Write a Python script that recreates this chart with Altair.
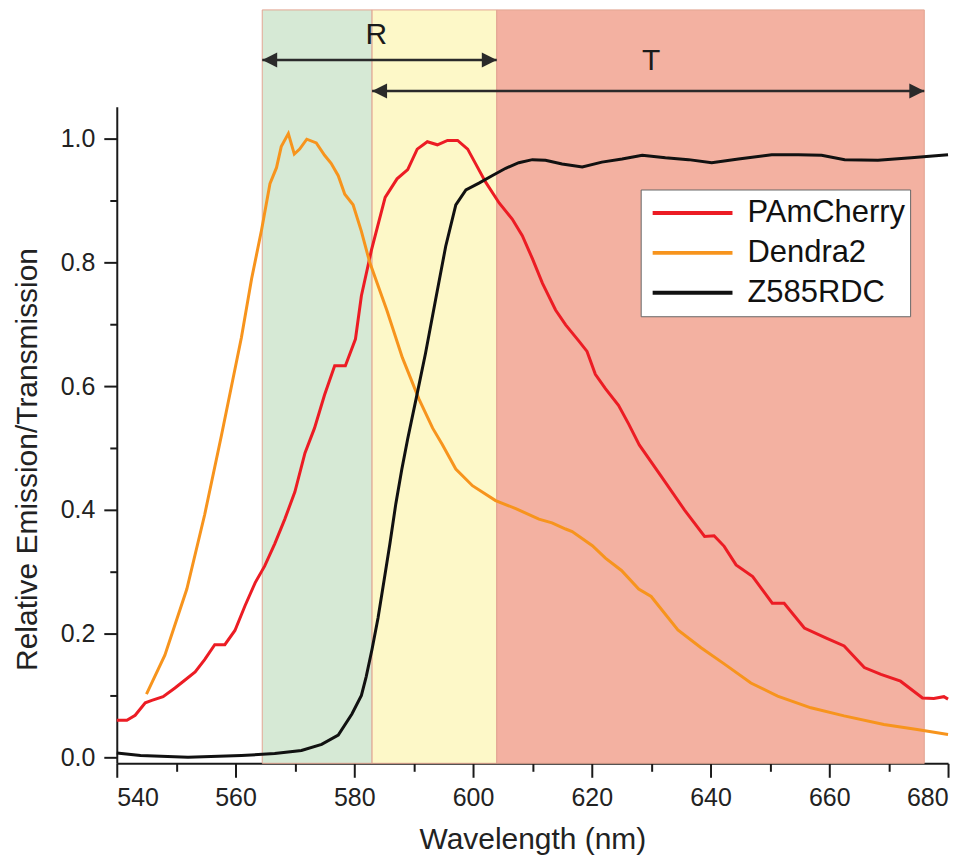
import altair as alt
import pandas as pd

FONT = "Liberation Sans"

# ---- data ----
series = ["PAmCherry", "Dendra2", "Z585RDC"]
series_colors = ["#ec1c24", "#f7941d", "#111111"]

pam_x = [540.0, 541.7, 543.1, 544.8, 545.9, 547.8, 549.8, 551.5, 553.2, 554.8, 556.5, 558.2,
         559.9, 561.6, 563.3, 564.9, 566.6, 568.3, 570.0, 571.7, 573.3, 575.0, 576.7, 578.5,
         580.2, 581.2, 582.9, 583.6, 585.2, 587.2, 589.0, 590.6, 592.3, 594.0, 595.7, 597.4,
         599.1, 600.4, 602.1, 604.4, 606.6, 608.3, 610.0, 611.7, 613.9, 615.6, 617.8, 619.2,
         620.6, 622.3, 624.5, 626.2, 628.0, 631.7, 635.6, 639.0, 640.6, 642.3, 644.3, 647.1,
         650.4, 652.4, 655.8, 659.4, 662.5, 665.9, 668.7, 672.0, 675.7, 677.6, 679.3, 680.0]
pam_y = [0.060, 0.060, 0.068, 0.088, 0.092, 0.098, 0.112, 0.125, 0.138, 0.158, 0.182, 0.182,
         0.205, 0.245, 0.282, 0.309, 0.345, 0.385, 0.429, 0.492, 0.532, 0.586, 0.633, 0.633,
         0.676, 0.746, 0.820, 0.846, 0.905, 0.935, 0.950, 0.983, 0.995, 0.990, 0.997, 0.997,
         0.983, 0.960, 0.930, 0.896, 0.870, 0.843, 0.806, 0.766, 0.723, 0.699, 0.673, 0.656,
         0.619, 0.596, 0.569, 0.539, 0.505, 0.454, 0.400, 0.357, 0.358, 0.341, 0.311, 0.292,
         0.249, 0.249, 0.209, 0.193, 0.180, 0.145, 0.134, 0.123, 0.096, 0.095, 0.098, 0.094]

den_x = [545.0, 548.1, 551.8, 554.8, 557.6, 559.3, 561.0, 562.7, 564.4, 565.8, 566.9, 567.7,
         568.9, 569.9, 570.8, 572.0, 573.6, 575.0, 576.1, 577.3, 578.4, 579.8, 581.2, 582.6,
         585.5, 588.1, 590.9, 593.2, 594.8, 597.1, 599.9, 603.8, 607.2, 611.1, 613.3, 615.6,
         616.7, 620.1, 622.3, 625.0, 627.9, 630.0, 634.5, 638.4, 642.3, 646.8, 651.3, 656.9,
         662.5, 669.2, 674.8, 680.0]
den_y = [0.102, 0.165, 0.272, 0.392, 0.519, 0.599, 0.679, 0.773, 0.853, 0.927, 0.953, 0.987,
         1.008, 0.975, 0.983, 0.999, 0.993, 0.973, 0.960, 0.940, 0.910, 0.893, 0.850, 0.800,
         0.722, 0.646, 0.579, 0.532, 0.506, 0.466, 0.439, 0.415, 0.402, 0.385, 0.379, 0.369,
         0.365, 0.342, 0.322, 0.302, 0.272, 0.260, 0.206, 0.177, 0.151, 0.120, 0.099, 0.080,
         0.067, 0.053, 0.045, 0.037]

z_x = [540.0, 544.0, 552.0, 561.0, 566.6, 571.1, 574.5, 577.3, 579.6, 581.2, 582.0, 583.0,
       584.0, 585.0, 586.0, 587.0, 588.0, 589.0, 590.4, 592.0, 593.7, 595.4, 597.1, 598.8,
       601.0, 603.2, 605.5, 607.7, 610.0, 612.2, 615.0, 618.4, 621.7, 625.1, 628.5, 632.4,
       636.3, 640.2, 644.7, 650.3, 654.8, 658.7, 662.6, 668.2, 673.8, 680.0]
z_y = [0.007, 0.003, 0.000, 0.003, 0.006, 0.011, 0.021, 0.036, 0.070, 0.100, 0.130, 0.175,
       0.225, 0.285, 0.345, 0.410, 0.465, 0.515, 0.579, 0.653, 0.740, 0.826, 0.893, 0.917,
       0.928, 0.940, 0.952, 0.961, 0.966, 0.965, 0.959, 0.954, 0.962, 0.967, 0.973, 0.969,
       0.966, 0.961, 0.967, 0.974, 0.974, 0.973, 0.966, 0.965, 0.969, 0.974]

band_names = ["green", "yellow", "red"]
band_start = [564.5, 583.0, 604.0]
band_end = [583.0, 604.0, 676.0]
band_low = [-0.0097, -0.0097, -0.0097]
band_high = [1.208, 1.208, 1.208]
band_colors = ["#d6e9d5", "#fdf8c8", "#f3b1a1"]

arrow_names = ["R", "T"]
arrow_start = [564.5, 583.0]
arrow_end = [604.0, 676.0]
arrow_y = [1.127, 1.077]
arrow_label_x = [583.7, 630.0]
arrow_label_y = [1.168, 1.125]

x_major = [540, 560, 580, 600, 620, 640, 660, 680]
x_minor = [550, 570, 590, 610, 630, 650, 670]
y_major = [0.0, 0.2, 0.4, 0.6, 0.8, 1.0]
y_minor = [0.1, 0.3, 0.5, 0.7, 0.9]

x_domain = [540, 680]
y_domain = [-0.0097, 1.0516]

# ---- tables ----
curves = pd.concat([
    pd.DataFrame({"wl": pam_x, "val": pam_y, "series": series[0]}),
    pd.DataFrame({"wl": den_x, "val": den_y, "series": series[1]}),
    pd.DataFrame({"wl": z_x, "val": z_y, "series": series[2]}),
], ignore_index=True)

bands = pd.DataFrame({"band": band_names, "start": band_start, "end": band_end,
                      "low": band_low, "high": band_high})
arrows = pd.DataFrame({"name": arrow_names, "start": arrow_start, "end": arrow_end,
                       "y": arrow_y, "lx": arrow_label_x, "ly": arrow_label_y})

xs = alt.Scale(domain=x_domain, nice=False, zero=False)
ys = alt.Scale(domain=y_domain, nice=False, zero=False)

INK = "#1a1a1a"

x_axis_major = alt.Axis(values=x_major, format="d", orient="bottom", grid=False,
                        tickSize=14, tickWidth=2, tickColor=INK,
                        domainColor=INK, domainWidth=2,
                        labelFont=FONT, labelFontSize=25, labelColor="#222222", labelPadding=8,
                        title="Wavelength (nm)", titleFont=FONT, titleFontSize=30,
                        titleFontWeight="normal", titleColor="#222222",
                        titleY=85, titleBaseline="alphabetic")
x_axis_minor = alt.Axis(values=x_minor, orient="bottom", grid=False, labels=False,
                        domain=False, tickSize=8, tickWidth=2, tickColor=INK, title=None)
y_axis_major = alt.Axis(values=y_major, format=".1f", orient="left", grid=False,
                        tickSize=13, tickWidth=2, tickColor=INK,
                        domainColor=INK, domainWidth=2,
                        labelFont=FONT, labelFontSize=25, labelColor="#222222", labelPadding=9,
                        title="Relative Emission/Transmission", titleFont=FONT,
                        titleFontSize=30, titleFontWeight="normal", titleColor="#222222",
                        titleAngle=270, titleX=-80, titleY=353, titleAlign="center",
                        titleBaseline="alphabetic")
y_axis_minor = alt.Axis(values=y_minor, orient="left", grid=False, labels=False,
                        domain=False, tickSize=7, tickWidth=2, tickColor=INK, title=None)

band_layer = alt.Chart(bands).mark_rect(stroke="#e2a592", strokeWidth=1).encode(
    x=alt.X("start:Q", scale=xs, axis=x_axis_minor),
    x2="end:Q",
    y=alt.Y("low:Q", scale=ys, axis=y_axis_minor),
    y2="high:Q",
    fill=alt.Fill("band:N", scale=alt.Scale(domain=band_names, range=band_colors), legend=None),
)

line_layer = alt.Chart(curves).mark_line(strokeWidth=3).encode(
    x=alt.X("wl:Q", scale=xs, axis=x_axis_major),
    y=alt.Y("val:Q", scale=ys, axis=y_axis_major),
    color=alt.Color("series:N", scale=alt.Scale(domain=series, range=series_colors),
                    sort=series,
                    legend=alt.Legend(title=None, orient="none", legendX=525, legendY=83,
                                      symbolType="stroke", symbolSize=6400,
                                      symbolStrokeWidth=4, clipHeight=37, rowPadding=3,
                                      padding=5, symbolOffset=5, labelOffset=13,
                                      labelFont=FONT, labelFontSize=31, labelColor="#111111",
                                      labelLimit=400, fillColor="white", strokeColor="#666666")),
    order="wl:Q",
)

rule_layer = alt.Chart(arrows).mark_rule(strokeWidth=2.5, color="#2a2a2a").encode(
    x=alt.X("start:Q", scale=xs, axis=None),
    x2="end:Q",
    y=alt.Y("y:Q", scale=ys, axis=None),
)

left_head = alt.Chart(arrows).mark_point(shape="M0,0L2,-1L2,1Z", filled=True, size=225,
                                         color="#2a2a2a", opacity=1, strokeWidth=0).encode(
    x=alt.X("start:Q", scale=xs, axis=None),
    y=alt.Y("y:Q", scale=ys, axis=None),
)
right_head = alt.Chart(arrows).mark_point(shape="M0,0L-2,-1L-2,1Z", filled=True, size=225,
                                          color="#2a2a2a", opacity=1, strokeWidth=0).encode(
    x=alt.X("end:Q", scale=xs, axis=None),
    y=alt.Y("y:Q", scale=ys, axis=None),
)

label_layer = alt.Chart(arrows).mark_text(font=FONT, fontSize=30, color="#1a1a1a",
                                          baseline="middle", align="center").encode(
    x=alt.X("lx:Q", scale=xs, axis=None),
    y=alt.Y("ly:Q", scale=ys, axis=None),
    text="name:N",
)

chart = alt.layer(band_layer, line_layer, rule_layer, left_head, right_head, label_layer).resolve_axis(
    x="independent", y="independent"
).properties(
    width=833, height=658,
    autosize=alt.AutoSizeParams(type="none"),
    padding={"left": 109, "top": 98, "right": 18, "bottom": 91},
    background="white",
).configure_view(stroke=None)

chart.save("out.html", embed_options={"renderer": "svg", "actions": False})
